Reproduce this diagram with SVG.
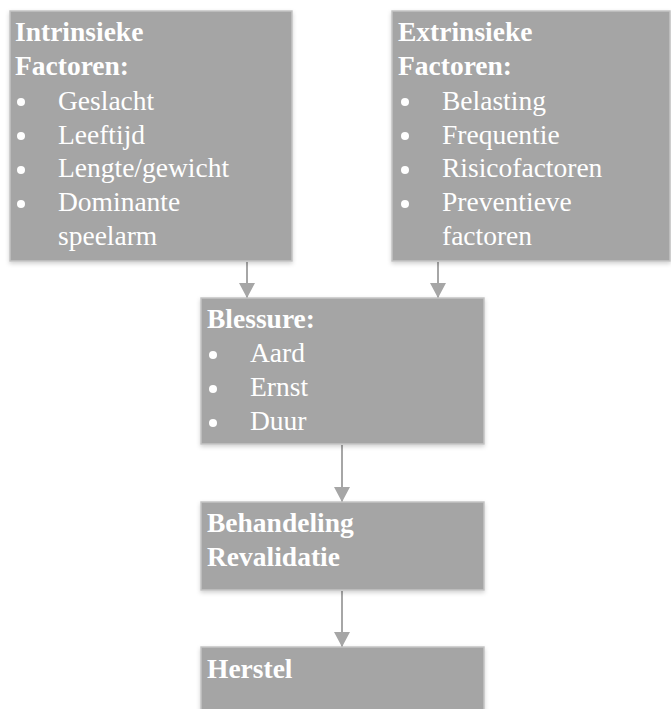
<svg xmlns="http://www.w3.org/2000/svg" width="671" height="709" viewBox="0 0 671 709">
<defs>
<filter id="sh" x="-5%" y="-5%" width="110%" height="115%">
<feDropShadow dx="0" dy="2" stdDeviation="2" flood-color="#000" flood-opacity="0.18"/>
</filter>
<marker id="ah" markerWidth="15" markerHeight="16" refX="15" refY="8" orient="auto" markerUnits="userSpaceOnUse" viewBox="0 0 15 16">
<path d="M0,0 L15,8 L0,16 Z" fill="#a6a6a6"/>
</marker>
<style>
.box{fill:#a5a5a5;stroke:#c4c4c4;stroke-width:1.5;filter:url(#sh)}
.t{font-family:"Liberation Serif","Times New Roman",serif;font-size:27.5px;fill:#ffffff}
.b{font-weight:bold}
.bul{fill:#ffffff}
.c{stroke:#a6a6a6;stroke-width:2;fill:none}
</style>
</defs>
<rect width="671" height="709" fill="#ffffff"/>
<g id="connectors">
<line class="c" x1="247" y1="262" x2="247" y2="298" marker-end="url(#ah)"/>
<line class="c" x1="438" y1="262" x2="438" y2="298" marker-end="url(#ah)"/>
<line class="c" x1="342" y1="445" x2="342" y2="502" marker-end="url(#ah)"/>
<line class="c" x1="342" y1="591" x2="342" y2="647" marker-end="url(#ah)"/>
</g>
<g id="intrinsiek">
<rect class="box" x="10" y="11" width="282" height="250"/>
<text class="t b" x="15" y="41">Intrinsieke</text>
<text class="t b" x="15" y="75">Factoren:</text>
<circle class="bul" cx="21" cy="102" r="4"/>
<text class="t" x="58" y="110">Geslacht</text>
<circle class="bul" cx="21" cy="136" r="4"/>
<text class="t" x="58" y="144">Leeftijd</text>
<circle class="bul" cx="21" cy="170" r="4"/>
<text class="t" x="58" y="177">Lengte/gewicht</text>
<circle class="bul" cx="21" cy="204" r="4"/>
<text class="t" x="58" y="211">Dominante</text>
<text class="t" x="58" y="245">speelarm</text>
</g>
<g id="extrinsiek">
<rect class="box" x="392" y="11" width="278" height="250"/>
<text class="t b" x="398" y="41">Extrinsieke</text>
<text class="t b" x="398" y="75">Factoren:</text>
<circle class="bul" cx="405" cy="102" r="4"/>
<text class="t" x="442" y="110">Belasting</text>
<circle class="bul" cx="405" cy="136" r="4"/>
<text class="t" x="442" y="144">Frequentie</text>
<circle class="bul" cx="405" cy="170" r="4"/>
<text class="t" x="442" y="177">Risicofactoren</text>
<circle class="bul" cx="405" cy="204" r="4"/>
<text class="t" x="442" y="211">Preventieve</text>
<text class="t" x="442" y="245">factoren</text>
</g>
<g id="blessure">
<rect class="box" x="201" y="298" width="283" height="146"/>
<text class="t b" x="207" y="328">Blessure:</text>
<circle class="bul" cx="213" cy="355" r="4"/>
<text class="t" x="250" y="362">Aard</text>
<circle class="bul" cx="213" cy="389" r="4"/>
<text class="t" x="250" y="396">Ernst</text>
<circle class="bul" cx="213" cy="423" r="4"/>
<text class="t" x="250" y="430">Duur</text>
</g>
<g id="behandeling">
<rect class="box" x="201" y="502" width="283" height="88"/>
<text class="t b" x="207" y="532">Behandeling</text>
<text class="t b" x="207" y="566">Revalidatie</text>
</g>
<g id="herstel">
<rect class="box" x="201" y="647" width="283" height="70"/>
<text class="t b" x="207" y="678">Herstel</text>
</g>
</svg>
